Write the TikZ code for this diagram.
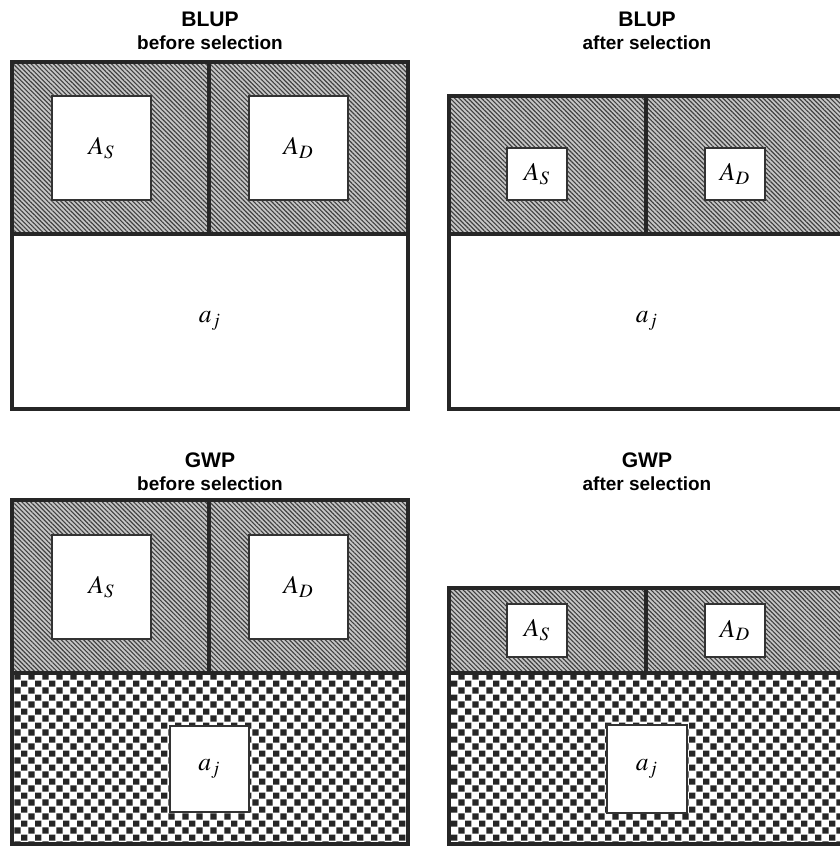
\documentclass[tikz,border=0pt]{standalone}
\usepackage{mathptmx}
\usepackage{fontspec}
\setsansfont{Liberation Sans}
\usetikzlibrary{patterns, patterns.meta}

\pgfdeclarepattern{
  name=fineChecks,
  type=uncolored,
  bottom left={\pgfpointorigin},
  top right={\pgfqpoint{7.9pt}{7.9pt}},
  tile size={\pgfqpoint{7.9pt}{7.9pt}},
  code={
    \pgfpathrectangle{\pgfqpoint{0.2pt}{0.2pt}}{\pgfqpoint{3.55pt}{3.55pt}}
    \pgfpathrectangle{\pgfqpoint{4.15pt}{4.15pt}}{\pgfqpoint{3.55pt}{3.55pt}}
    \pgfusepath{fill}
  }
}

\begin{document}
\begin{tikzpicture}[
  x=0.2mm, y=-0.2mm,
  frame/.style={draw=black!85, line width=2.6pt},
  hatch/.style={fill=black!22, postaction={pattern={Lines[angle=-45, distance=1.8pt, line width=0.65pt]}, pattern color=black!75}},
  checks/.style={fill=white, postaction={pattern=fineChecks, pattern color=black!85}},
  cell/.style={draw=black!80, fill=white, line width=0.8pt, inner sep=0pt, font=\fontsize{14.5}{16}\selectfont},
  small/.style={font=\fontsize{14.5}{16}\selectfont},
  head/.style={anchor=base, font=\sffamily\bfseries\fontsize{12}{14}\selectfont},
  subhead/.style={anchor=base, font=\sffamily\bfseries\fontsize{10.8}{13}\selectfont},
]
  \clip (0,0) rectangle (840,847);

  % titles
  \node[head] (blupB) at (210,27) {BLUP};
  \node[subhead] (blupBsub) at (210,50) {before selection};
  \node[head] (blupA) at (647,27) {BLUP};
  \node[subhead] (blupAsub) at (647,50) {after selection};
  \node[head] (gwpB) at (210,467) {GWP};
  \node[subhead] (gwpBsub) at (210,490) {before selection};
  \node[head] (gwpA) at (647,467) {GWP};
  \node[subhead] (gwpAsub) at (647,490) {after selection};

  % BLUP before selection
  \path[hatch] (12,62) rectangle (408,234);
  \node[cell, minimum width=19.8mm, minimum height=20.8mm] (bbS) at (101.5,148) {$A_S$};
  \node[cell, minimum width=19.8mm, minimum height=20.8mm] (bbD) at (298.5,148) {$A_D$};
  \node[small] (bbj) at (210,321) {$a_j$};
  \draw[frame] (12,62) rectangle (408,409);
  \draw[frame] (12,234) -- (408,234) (209,62) -- (209,234);

  % BLUP after selection
  \path[hatch] (449,96) rectangle (845,234);
  \node[cell, minimum width=12mm, minimum height=10.4mm] (baS) at (537,174) {$A_S$};
  \node[cell, minimum width=12mm, minimum height=10.4mm] (baD) at (735,174) {$A_D$};
  \node[small] (baj) at (647,321) {$a_j$};
  \draw[frame] (449,96) rectangle (845,409);
  \draw[frame] (449,234) -- (845,234) (646,96) -- (646,234);

  % GWP before selection
  \path[hatch] (12,500) rectangle (408,673);
  \path[checks] (12,673) rectangle (408,844);
  \node[cell, minimum width=19.8mm, minimum height=20.8mm] (gbS) at (101.5,587) {$A_S$};
  \node[cell, minimum width=19.8mm, minimum height=20.8mm] (gbD) at (298.5,587) {$A_D$};
  \node[cell, small, minimum width=15.8mm, minimum height=17.2mm] (gbj) at (209.5,769) {$a_j$};
  \draw[frame] (12,500) rectangle (408,844);
  \draw[frame] (12,673) -- (408,673) (209,500) -- (209,673);

  % GWP after selection
  \path[hatch] (449,588) rectangle (845,673);
  \path[checks] (449,673) rectangle (845,844);
  \node[cell, minimum width=12mm, minimum height=10.6mm] (gaS) at (537,630.5) {$A_S$};
  \node[cell, minimum width=12mm, minimum height=10.6mm] (gaD) at (735,630.5) {$A_D$};
  \node[cell, small, minimum width=16mm, minimum height=17.6mm] (gaj) at (647,769) {$a_j$};
  \draw[frame] (449,588) rectangle (845,844);
  \draw[frame] (449,673) -- (845,673) (646,588) -- (646,673);
\end{tikzpicture}
\end{document}
